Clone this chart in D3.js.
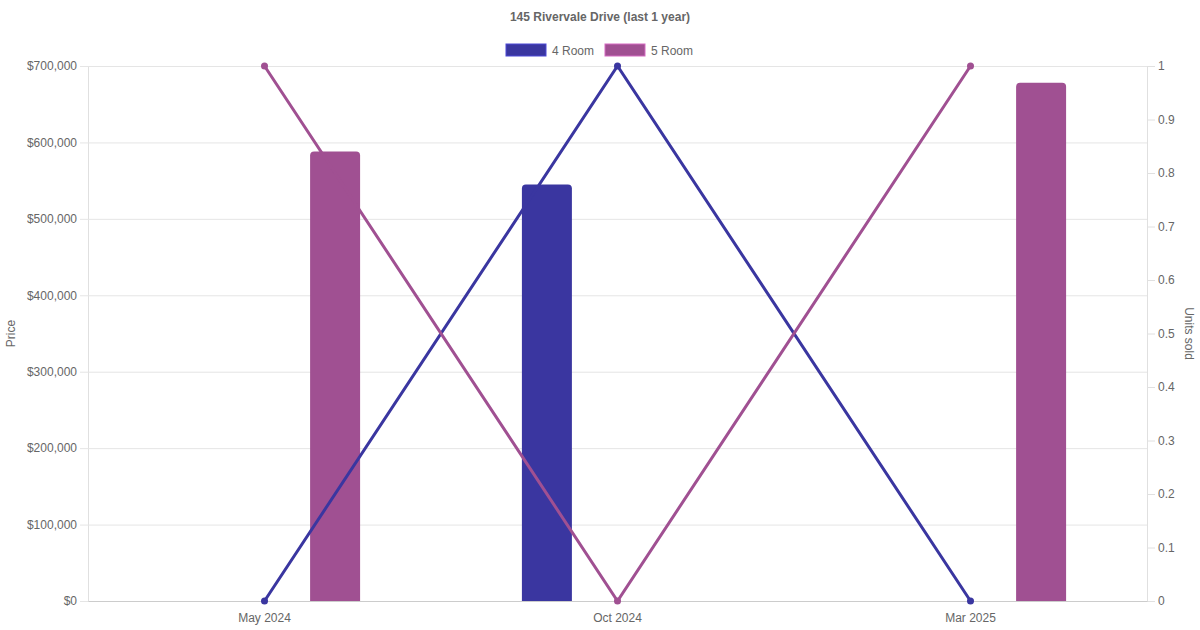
<!DOCTYPE html>
<html>
<head>
<meta charset="utf-8">
<script src="https://cdn.jsdelivr.net/npm/d3@7"></script>
<style>
  body { margin: 0; background: #fff; }
  svg text { font-family: "Liberation Sans", Arial, sans-serif; fill: #666; }
</style>
</head>
<body>
<div id="chart"></div>
<script>
/** Chart data */
const months = ["May 2024", "Oct 2024", "Mar 2025"];
const seriesNames = ["4 Room", "5 Room"];
const price4Room = [null, 545000, null];
const price5Room = [588000, null, 678000];
const units4Room = [0, 1, 0];
const units5Room = [1, 0, 1];
const priceTicks = [0, 100000, 200000, 300000, 400000, 500000, 600000, 700000];
const unitTicks = [0, 0.1, 0.2, 0.3, 0.4, 0.5, 0.6, 0.7, 0.8, 0.9, 1];
const colors = {"4 Room": "#3a36a0", "5 Room": "#a05092"};

const w = 1200, h = 630;
const margin = {top: 66, right: 53, bottom: 29, left: 88};
const width = w - margin.left - margin.right;
const height = h - margin.top - margin.bottom;

const svg = d3.select("#chart").append("svg")
  .attr("width", w)
  .attr("height", h);

/** Scales */
const xScale = d3.scaleBand().domain(months).range([0, width]).padding(0);
const bw = xScale.bandwidth();
const xInner = d3.scaleBand().domain(seriesNames).range([-0.4 * bw, 0.4 * bw]);
const barW = Math.min(50, xInner.bandwidth() * 0.9);
const yPrice = d3.scaleLinear().domain([0, 700000]).range([height, 0]);
const yUnits = d3.scaleLinear().domain([0, 1]).range([height, 0]);

/** Title */
svg.append("text")
  .attr("x", w / 2).attr("y", 21)
  .attr("text-anchor", "middle")
  .style("font-size", "12px").style("font-weight", "bold")
  .text("145 Rivervale Drive (last 1 year)");

/** Legend */
const legend = svg.append("g").attr("transform", "translate(506,44)");
const legendX = [0, 99];
seriesNames.forEach((name, i) => {
  const g = legend.append("g").attr("transform", "translate(" + legendX[i] + ",0)");
  g.append("rect")
    .attr("width", 40).attr("height", 12)
    .attr("fill", colors[name])
    .attr("stroke", d3.color(colors[name]).brighter(0.8))
    .attr("stroke-width", 1);
  g.append("text")
    .attr("x", 46).attr("y", 10.5)
    .style("font-size", "12px")
    .text(name);
});

const plot = svg.append("g").attr("transform", "translate(" + margin.left + "," + margin.top + ")");

/** Left axis with grid */
const yAxisL = d3.axisLeft(yPrice)
  .tickValues(priceTicks)
  .tickSize(8)
  .tickPadding(3)
  .tickFormat(d => "$" + d3.format(",")(d));
const gL = plot.append("g").attr("id", "y-axis-left").call(yAxisL);
gL.select(".domain").attr("stroke", "#e0e0e0");
gL.selectAll(".tick line").attr("stroke", "#e5e5e5").attr("x2", width).attr("x1", -8);
gL.selectAll(".tick text").style("font-size", "12px").attr("fill", "#666");

/** Right axis */
const yAxisR = d3.axisRight(yUnits)
  .tickValues(unitTicks)
  .tickSize(8)
  .tickPadding(3)
  .tickFormat(d3.format("~g"));
const gR = plot.append("g").attr("id", "y-axis-right")
  .attr("transform", "translate(" + width + ",0)")
  .call(yAxisR);
gR.select(".domain").attr("stroke", "#e0e0e0");
gR.selectAll(".tick line").attr("stroke", "#e0e0e0");
gR.selectAll(".tick text").style("font-size", "12px").attr("fill", "#666");

/** Bottom axis */
const xAxis = d3.axisBottom(xScale).tickSize(0).tickPadding(12);
const gX = plot.append("g").attr("id", "x-axis")
  .attr("transform", "translate(0," + height + ")")
  .call(xAxis);
gX.select(".domain").attr("stroke", "#cccccc");
gX.selectAll(".tick text").style("font-size", "12px").attr("fill", "#666");

/** Axis titles */
svg.append("text")
  .attr("transform", "translate(15," + (margin.top + height / 2) + ") rotate(-90)")
  .attr("text-anchor", "middle")
  .style("font-size", "12px")
  .text("Price");
svg.append("text")
  .attr("transform", "translate(1185," + (margin.top + height / 2) + ") rotate(90)")
  .attr("text-anchor", "middle")
  .style("font-size", "12px")
  .text("Units sold");

/** Bars with rounded top corners */
function topRounded(x, y, bwid, bh, r) {
  r = Math.min(r, bh, bwid / 2);
  return "M" + x + "," + (y + bh) +
    "V" + (y + r) +
    "Q" + x + "," + y + " " + (x + r) + "," + y +
    "H" + (x + bwid - r) +
    "Q" + (x + bwid) + "," + y + " " + (x + bwid) + "," + (y + r) +
    "V" + (y + bh) + "Z";
}
const priceData = {"4 Room": price4Room, "5 Room": price5Room};
seriesNames.forEach(name => {
  const vals = months.map((m, i) => ({m, v: priceData[name][i]})).filter(d => d.v != null);
  plot.append("g").selectAll("path")
    .data(vals)
    .enter()
    .append("path")
    .attr("fill", colors[name])
    .attr("d", d => {
      const cx = xScale(d.m) + bw / 2 + xInner(name) + xInner.bandwidth() / 2;
      const y = yPrice(d.v);
      return topRounded(cx - barW / 2, y, barW, height - y, 4);
    });
});

/** Lines (units sold) */
const unitData = {"4 Room": units4Room, "5 Room": units5Room};
const line = d3.line()
  .x(d => xScale(d.m) + bw / 2)
  .y(d => yUnits(d.v));
seriesNames.forEach(name => {
  const vals = months.map((m, i) => ({m, v: unitData[name][i]}));
  plot.append("path")
    .datum(vals)
    .attr("fill", "none")
    .attr("stroke", colors[name])
    .attr("stroke-width", 3)
    .attr("d", line);
  plot.append("g").selectAll("circle")
    .data(vals)
    .enter()
    .append("circle")
    .attr("cx", d => xScale(d.m) + bw / 2)
    .attr("cy", d => yUnits(d.v))
    .attr("r", 3.5)
    .attr("fill", colors[name]);
});
</script>
</body>
</html>
